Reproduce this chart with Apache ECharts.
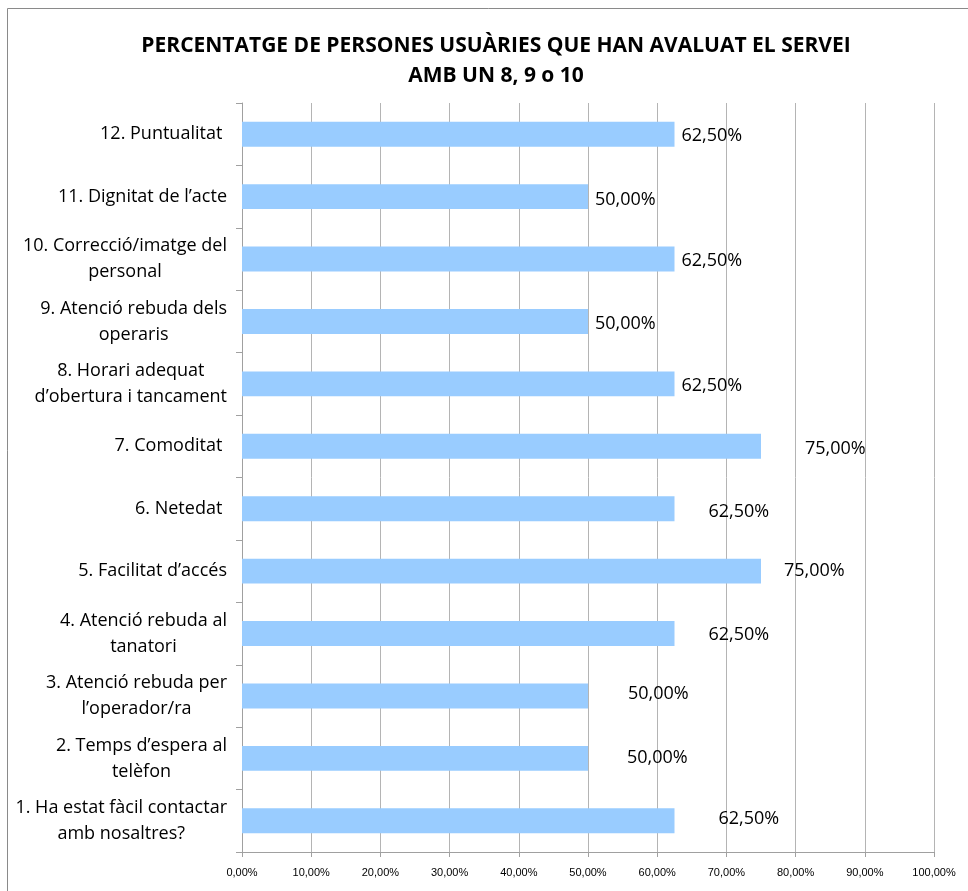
<!DOCTYPE html>
<html>
<head>
<meta charset="utf-8">
<script src="https://cdn.jsdelivr.net/npm/echarts@6/dist/echarts.min.js"></script>
<style>
  html, body { margin: 0; padding: 0; background: #ffffff; }
  #chart { width: 968px; height: 891px; }
</style>
</head>
<body>
<div id="chart"></div>
<script>
// Survey items, listed bottom to top on the category axis
const categories = [
  "1. Ha estat fàcil contactar\namb nosaltres?",
  "2. Temps d’espera al\ntelèfon",
  "3. Atenció rebuda per\nl’operador/ra",
  "4. Atenció rebuda al\ntanatori",
  "5. Facilitat d’accés",
  "6. Netedat ",
  "7. Comoditat ",
  "8. Horari adequat\nd’obertura i tancament",
  "9. Atenció rebuda dels\noperaris",
  "10. Correcció/imatge del\npersonal",
  "11. Dignitat de l’acte",
  "12. Puntualitat "
];

// Share of respondents scoring 8, 9 or 10 (percent)
const values = [62.5, 50, 50, 62.5, 75, 62.5, 75, 62.5, 50, 62.5, 50, 62.5];

// Value axis ticks
const axisMin = 0;
const axisMax = 100;
const axisStep = 10;

// Per-bar nudges for the value labels [dx, dy]
const labelNudges = [
  [39, -2], [34, -1], [35, -2], [29, 1], [18, 0], [29, 3],
  [39, 3], [2, 2], [2, 2], [2, 2], [2, 3], [2, 2]
];

const fmt = v => v.toFixed(2).replace('.', ',') + '%';

const chart = echarts.init(document.getElementById('chart'), null, { renderer: 'canvas' });

chart.setOption({
  backgroundColor: '#ffffff',
  animation: false,
  title: {
    text: 'PERCENTATGE DE PERSONES USUÀRIES QUE HAN AVALUAT EL SERVEI\nAMB UN 8, 9 o 10',
    left: 491,
    top: 26,
    textAlign: 'center',
    textStyle: {
      fontFamily: 'Open Sans',
      fontWeight: 'bold',
      fontSize: 21,
      lineHeight: 30,
      color: '#000000'
    }
  },
  graphic: [{
    type: 'rect',
    shape: { x: 7.5, y: 8.5, width: 1000, height: 1000 },
    style: { fill: 'none', stroke: '#8a8a8a', lineWidth: 1 },
    silent: true
  }],
  grid: {
    left: 242,
    right: 34,
    top: 103,
    bottom: 39,
    containLabel: false
  },
  xAxis: {
    type: 'value',
    min: axisMin,
    max: axisMax,
    interval: axisStep,
    axisLine: { show: true, lineStyle: { color: '#a0a0a0', width: 1 } },
    axisTick: { show: true, length: 5, lineStyle: { color: '#a0a0a0' } },
    splitLine: { show: true, lineStyle: { color: '#b4b4b4', width: 1 } },
    axisLabel: {
      formatter: v => fmt(v),
      fontFamily: 'Liberation Sans',
      fontSize: 11,
      color: '#000000',
      margin: 15
    }
  },
  yAxis: {
    type: 'category',
    data: categories,
    axisLine: { show: true, lineStyle: { color: '#a0a0a0', width: 1 } },
    axisTick: { show: true, length: 6, lineStyle: { color: '#a0a0a0' } },
    splitLine: { show: false },
    axisLabel: {
      // each line is centred inside the right-aligned label block
      formatter: v => v.split('\n').map(s => '{c|' + s + '}').join('\n'),
      color: '#000000',
      margin: 15,
      align: 'right',
      rich: {
        c: {
          align: 'center',
          fontFamily: 'Open Sans',
          fontSize: 18,
          lineHeight: 26,
          color: '#000000'
        }
      }
    }
  },
  series: [{
    type: 'bar',
    data: values.map((v, i) => ({
      value: v,
      label: { offset: labelNudges[i] }
    })),
    barCategoryGap: '60%',
    itemStyle: { color: '#99ccff' },
    label: {
      show: true,
      position: 'right',
      distance: 5,
      formatter: p => fmt(p.value),
      fontFamily: 'Open Sans',
      fontSize: 18,
      color: '#000000'
    }
  }]
});
</script>
</body>
</html>
